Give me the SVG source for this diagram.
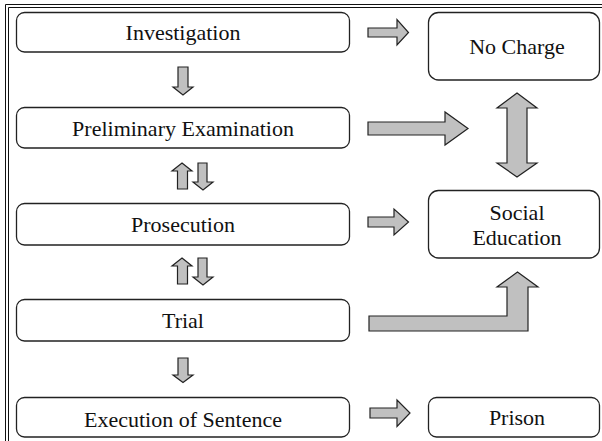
<svg xmlns="http://www.w3.org/2000/svg" width="602" height="441" viewBox="0 0 602 441">
<style>
.box{fill:#fff;stroke:#222;stroke-width:1.3}
.t{font-size:22px;fill:#111;text-anchor:middle}
.arr{fill:#c0c0c0;stroke:#222;stroke-width:1.2;stroke-linejoin:miter}
.frame{fill:none;stroke:#111;stroke-width:1}
</style>
<rect width="602" height="441" fill="#fff"/>
<path class="frame" d="M5.5,441 V4.5 H602"/>
<path class="frame" d="M8.5,441 V7.5 H602"/>
<g font-family="Liberation Serif, Times New Roman, DejaVu Serif, serif">
<g id="investigation"><rect class="box" x="16.5" y="12.5" width="333" height="39.5" rx="8"/><text class="t" x="183" y="40">Investigation</text></g>
<g id="preliminary"><rect class="box" x="16.5" y="107.5" width="333" height="40.5" rx="8"/><text class="t" x="183" y="136">Preliminary Examination</text></g>
<g id="prosecution"><rect class="box" x="16.5" y="203.5" width="333" height="41.5" rx="8"/><text class="t" x="183" y="232">Prosecution</text></g>
<g id="trial"><rect class="box" x="16.5" y="299.5" width="333" height="41.5" rx="8"/><text class="t" x="183" y="328">Trial</text></g>
<g id="execution"><rect class="box" x="16.5" y="397.5" width="333" height="39.5" rx="8"/><text class="t" x="183" y="427">Execution of Sentence</text></g>
<g id="nocharge"><rect class="box" x="428.5" y="12.5" width="171" height="67.5" rx="10"/><text class="t" x="517" y="54">No Charge</text></g>
<g id="socialeducation"><rect class="box" x="428.5" y="190.5" width="171" height="67.5" rx="10"/><text class="t" x="517" y="220">Social</text><text class="t" x="517" y="245">Education</text></g>
<g id="prison"><rect class="box" x="428.5" y="397.5" width="171" height="39.5" rx="8"/><text class="t" x="517" y="425">Prison</text></g>
</g>
<g id="connectors">
<path class="arr" d="M368,28 H397 V19.5 L408.5,32.5 L397,45 V37 H368 Z"/>
<path class="arr" d="M368,122 H445 V112 L468,128.5 L445,145 V135 H368 Z"/>
<path class="arr" d="M368,217 H394 V209 L408.5,222 L394,235 V227 H368 Z"/>
<path class="arr" d="M370,408 H397 V400 L410,413 L397,426.5 V418 H370 Z"/>
<path class="arr" d="M517,93 L537,108 H527 V163 H537 L517,177 L497,163 H507 V108 H497 Z"/>
<path class="arr" d="M369,316 H507 V287 H497 L517.5,272 L538,287 H528 V331 H369 Z"/>
<path class="arr" d="M178,67 H188 V87 H193 L183,95 L173,87 H178 Z"/>
<path class="arr" d="M182,163 L192,171 H187.5 V189 H177.5 V171 H172 Z"/>
<path class="arr" d="M198,163 H207 V182 H213 L203,190 L193,182 H198 Z"/>
<path class="arr" d="M182,258 L192,266 H187.5 V284 H177.5 V266 H172 Z"/>
<path class="arr" d="M198,258 H207 V277 H213 L203,285 L193,277 H198 Z"/>
<path class="arr" d="M178,358 H188 V375 H193 L183,382.5 L173,375 H178 Z"/>
</g>
</svg>
